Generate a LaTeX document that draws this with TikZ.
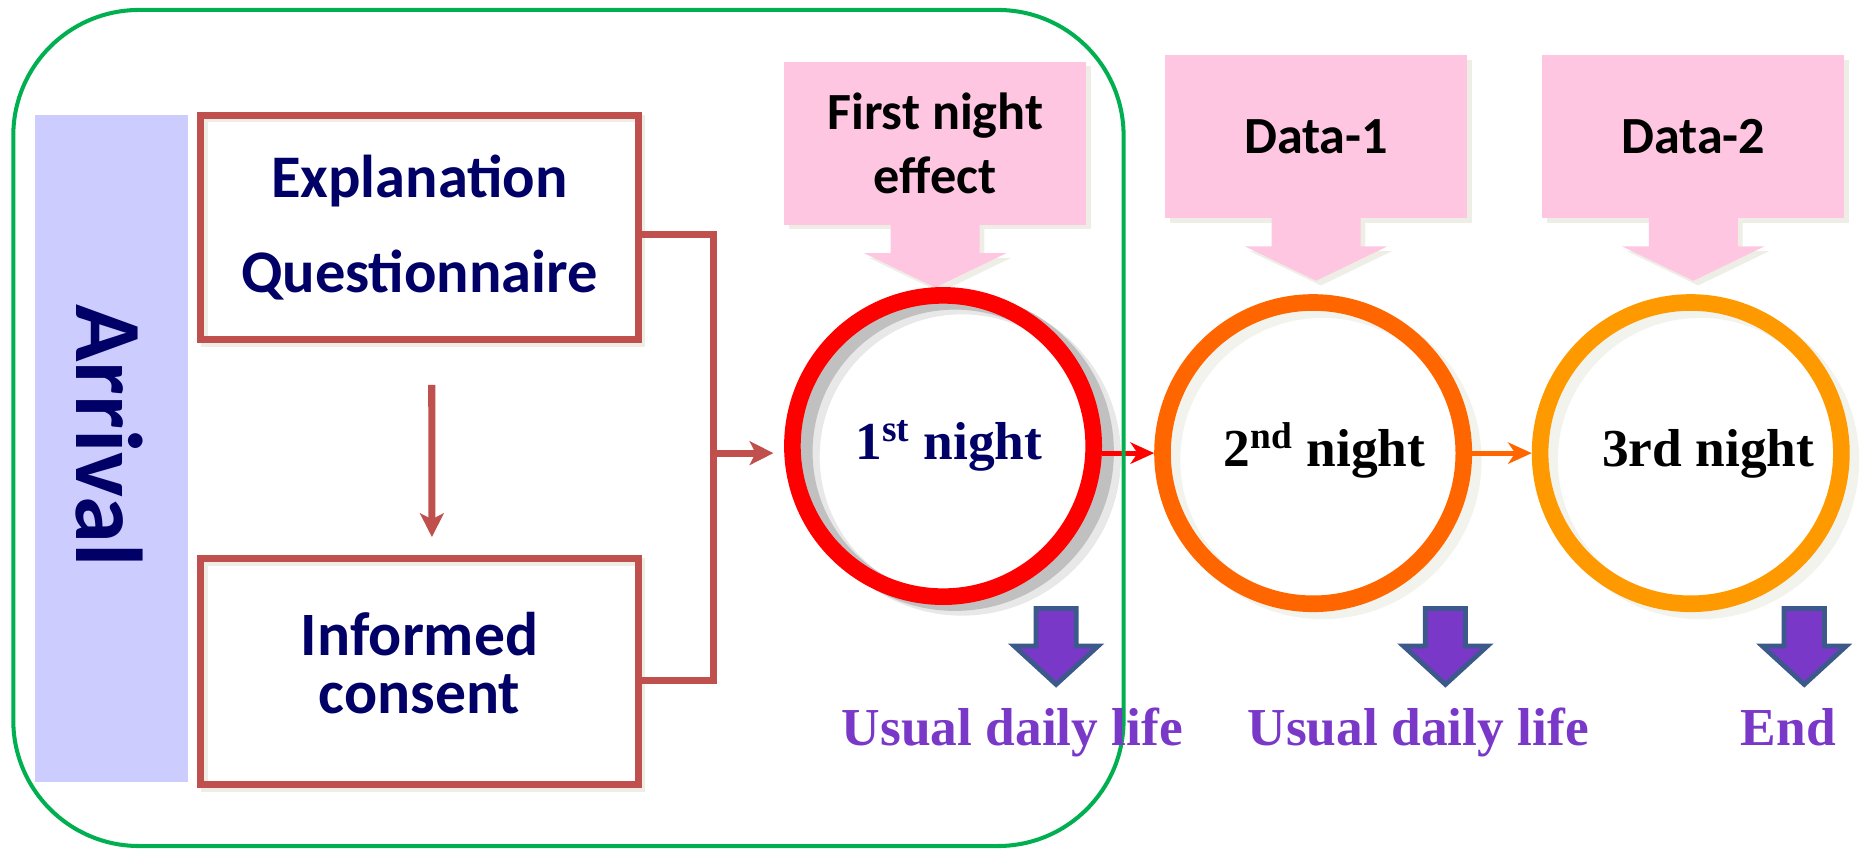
\documentclass[tikz,border=0pt]{standalone}
\usepackage{fontspec}
\setmainfont{Liberation Serif}
\newfontfamily\calibri{Carlito}
\usetikzlibrary{arrows.meta,calc}

\definecolor{frameg}{RGB}{0,176,80}
\definecolor{lav}{RGB}{204,204,255}
\definecolor{navy}{RGB}{0,0,102}
\definecolor{brick}{RGB}{192,80,77}
\definecolor{pinkc}{RGB}{255,198,226}
\definecolor{shade}{RGB}{238,238,230}
\definecolor{softshade}{RGB}{243,243,238}
\definecolor{ringshade}{RGB}{192,192,192}
\definecolor{ringglow}{RGB}{232,232,232}
\definecolor{ringA}{RGB}{255,0,0}
\definecolor{ringB}{RGB}{255,102,0}
\definecolor{ringC}{RGB}{255,153,0}
\definecolor{violet}{RGB}{122,56,200}
\definecolor{violetedge}{RGB}{59,89,139}

% pointer under a pink callout box
\newcommand\calloutpointer[1]{%
  \fill[pinkc, preaction={fill=shade, transform canvas={shift={(2pt,-2pt)}}}]
    ($(#1.south)+(-37.5,-1)$) -- ++(0,25) -- ++(-22.5,0) -- ++(60,29)
    -- ++(60,-29) -- ++(-22.5,0) -- ++(0,-25) -- cycle;}

% purple block arrow pointing down, tip at x = #1
\newcommand\downblock[1]{%
  \draw[fill=violet, draw=violetedge, line width=2pt, line join=miter]
    ({#1-17},513) -- ({#1+17},513) -- ({#1+17},544.5) -- ({#1+35.5},544.5)
    -- (#1,577) -- ({#1-35.5},544.5) -- ({#1-17},544.5) -- cycle;}

\begin{document}
\begin{tikzpicture}[x=0.5pt,y=-0.5pt,
  stepbox/.style={draw=brick, line width=3pt, inner sep=0pt, outer sep=1.5pt,
    minimum width=184.4pt, align=center, text=navy,
    preaction={draw=shade, line width=3pt, transform canvas={shift={(1.5pt,-1.5pt)}}}},
  callbox/.style={fill=pinkc, inner sep=0pt, outer sep=0pt,
    minimum width=127.3pt, minimum height=68.7pt, align=center,
    font=\calibri\bfseries\fontsize{22}{27}\selectfont,
    preaction={fill=shade, transform canvas={shift={(2pt,-2pt)}}}},
  nightring/.style={circle, draw=#1, line width=7pt, inner sep=0pt,
    outer sep=3.5pt, minimum size=127pt},
  nighttext/.style={anchor=base, inner sep=0pt,
    font=\bfseries\fontsize{22.5}{27}\selectfont},
  lifelabel/.style={anchor=base, inner sep=0pt, text=violet,
    font=\bfseries\fontsize{22.5}{27}\selectfont},
  link/.style={draw=brick, line width=3pt},
  tip/.style={-{Stealth[length=10pt,width=10pt,inset=2.5pt]}},
  ringtip/.style={-{Stealth[length=10pt,width=9pt,inset=3pt]}}
]
\useasboundingbox (0,0) rectangle (1568,716);

% arrival column
\node[fill=lav, inner sep=0pt, minimum width=64.4pt, minimum height=281pt]
  (arr) at (93.9,378) {};
\node[rotate=-90, inner sep=0pt, text=navy,
  font=\calibri\bfseries\fontsize{40}{44}\selectfont] (arrtext) at (92,367) {Arrival};

% procedure boxes
\node[stepbox, minimum height=94.75pt,
  font=\calibri\bfseries\fontsize{25.5}{40}\selectfont]
  (ex) at (353.6,191.8) {Explanation\\Questionnaire};
\node[stepbox, minimum height=95.25pt,
  font=\calibri\bfseries\fontsize{26}{24.5}\selectfont]
  (ic) at (353.7,566) {Informed\\consent\strut};

\draw[link, tip] ($(ex.south)+(10.4,35)$) -- ($(ic.north)+(10.4,-15)$);

% pink callouts
\node[callbox] (fne) at (788.4,120.7) {First night\\effect};
\calloutpointer{fne}
\node[callbox] (d1) at (1109.5,115) {Data-1};
\calloutpointer{d1}
\node[callbox] (d2) at (1427.5,115) {Data-2};
\calloutpointer{d2}

% night rings
\node[nightring=ringA,
  preaction={draw=ringglow, line width=7pt, transform canvas={shift={(8pt,-4.5pt)}}},
  preaction={draw=ringshade, line width=7pt, transform canvas={shift={(5pt,-2.5pt)}}}]
  (n1) at (795,376) {};
\node[nightring=ringB,
  preaction={draw=softshade, line width=7pt, transform canvas={shift={(4pt,-3pt)}}}]
  (n2) at (1107,382) {};
\node[nightring=ringC,
  preaction={draw=softshade, line width=7pt, transform canvas={shift={(4pt,-3pt)}}}]
  (n3) at (1425.3,382) {};

\node[nighttext, text=navy] (t1) at (800,387.3) {1\textsuperscript{st} night};
\node[nighttext] (t2) at (1116.6,393.5) {2\textsuperscript{nd} night};
\node[nighttext] (t3) at (1440,393.6) {3rd night};

% joining the two boxes into the first night
\coordinate (j) at (601.5,382);
\draw[link] ([yshift=-3pt]ex.east) -| (j) |- ([yshift=-4pt]ic.east);
\draw[link, tip, shorten >=4.5pt] (j) -- (n1.west |- j);

\draw[ringA, line width=2.2pt, ringtip] (n1.east |- n2.west) -- (n2.west);
\draw[ringB, line width=2.2pt, ringtip] (n2.east) -- (n3.west);

% outcome arrows
\downblock{890.3}
\downblock{1218.5}
\downblock{1521}

% first-night phase frame
\draw[frameg, line width=1.7pt, rounded corners=53pt] (11.2,8.4) rectangle (947.2,713.2);

\node[lifelabel] (u1) at (853.5,628.7) {Usual daily life};
\node[lifelabel] (u2) at (1195.5,628.7) {Usual daily life};
\node[lifelabel] (u3) at (1507.6,628.7) {End};
\end{tikzpicture}
\end{document}
